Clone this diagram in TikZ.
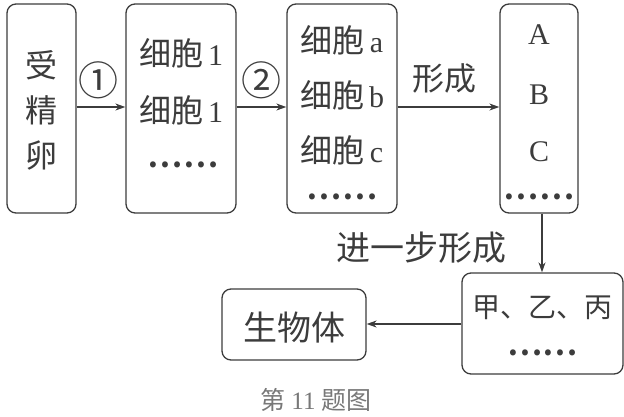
\documentclass[tikz,border=0pt]{standalone}
\usepackage{fontspec}
\setmainfont{Liberation Serif}
\newfontfamily\cjk{Noto Sans CJK SC}
\newfontfamily\cjkb{Noto Sans CJK SC Bold}
\usetikzlibrary{arrows.meta}
\definecolor{ink}{RGB}{60,60,60}
\definecolor{cap}{RGB}{120,120,120}
\newcommand{\zh}[1]{{\fontsize{32}{34}\selectfont\cjk #1}}
\newcommand{\dotsrow}{{\fontsize{32}{34}\selectfont\cjkb ……}}
\tikzset{
  box/.style={draw=ink, line width=1.3pt, rounded corners=9pt, inner sep=0pt},
  txt/.style={text=ink, inner sep=0pt, font=\fontsize{30}{32}\selectfont},
  conn/.style={draw=ink, line width=1.3pt, -{Stealth[length=10pt,width=7pt]}},
}
\begin{document}
\begin{tikzpicture}[x=1pt,y=-1pt]
\useasboundingbox (0,0) rectangle (624,416);
% boxes
\node[box, minimum width=69pt, minimum height=209pt] (b1) at (41.5,108.5) {};
\node[box, minimum width=110pt, minimum height=209pt] (b2) at (181,108.5) {};
\node[box, minimum width=110pt, minimum height=209pt] (b3) at (342,108.5) {};
\node[box, minimum width=78pt, minimum height=209pt] (b4) at (539,108.5) {};
\node[box, minimum width=161pt, minimum height=101pt] (b5) at (542.5,323.5) {};
\node[box, minimum width=144pt, minimum height=71pt] (b6) at (294,324.5) {};
% box 1 text
\node[txt] (t1a) at (41.5,65) {\zh{受}};
\node[txt] (t1b) at (41.5,110) {\zh{精}};
\node[txt] (t1c) at (41.5,155) {\zh{卵}};
% box 2 text
\node[txt] (t2a) at (181,53) {\zh{细胞}\,1};
\node[txt] (t2b) at (181,110) {\zh{细胞}\,1};
\node[txt] (t2c) at (183,165) {\dotsrow};
% box 3 text
\node[txt] (t3a) at (342,40) {\zh{细胞}\,a};
\node[txt] (t3b) at (342,95) {\zh{细胞}\,b};
\node[txt] (t3c) at (342,150) {\zh{细胞}\,c};
\node[txt] (t3d) at (342,197) {\dotsrow};
% box 4 text
\node[txt] (t4a) at (539,35) {A};
\node[txt] (t4b) at (539,95) {B};
\node[txt] (t4c) at (539,152) {C};
\node[txt] (t4d) at (539,197) {\dotsrow};
% box 5 text
\node[txt] (t5a) at (542.5,308) {{\fontsize{28}{30}\selectfont\cjk 甲、乙、丙}};
\node[txt] (t5b) at (542.5,353) {\dotsrow};
% box 6 text
\node[txt] (t6) at (294,328) {{\fontsize{34}{36}\selectfont\cjk 生物体}};
% connectors
\draw[conn] (b1.east |- 0,107) -- (b2.west |- 0,107);
\draw[conn] (b2.east |- 0,107) -- (b3.west |- 0,107);
\draw[conn] (b3.east |- 0,107) -- (b4.west |- 0,107);
\draw[conn] (b4.south -| 542,0) -- (b5.north -| 542,0);
\draw[conn] (b5.west |- 0,324) -- (b6.east |- 0,324);
% labels
\node[txt] (l1) at (98,80) {{\fontsize{40}{42}\selectfont\cjk ①}};
\node[txt] (l2) at (261,80) {{\fontsize{40}{42}\selectfont\cjk ②}};
\node[txt] (l3) at (444,78) {\zh{形成}};
\node[txt] (l4) at (421,248) {{\fontsize{34}{36}\selectfont\cjk 进一步形成}};
\node[txt, text=cap, font=\fontsize{25}{27}\selectfont] (capt) at (316,400) {{\cjk 第} 11 {\cjk 题图}};
\end{tikzpicture}
\end{document}
